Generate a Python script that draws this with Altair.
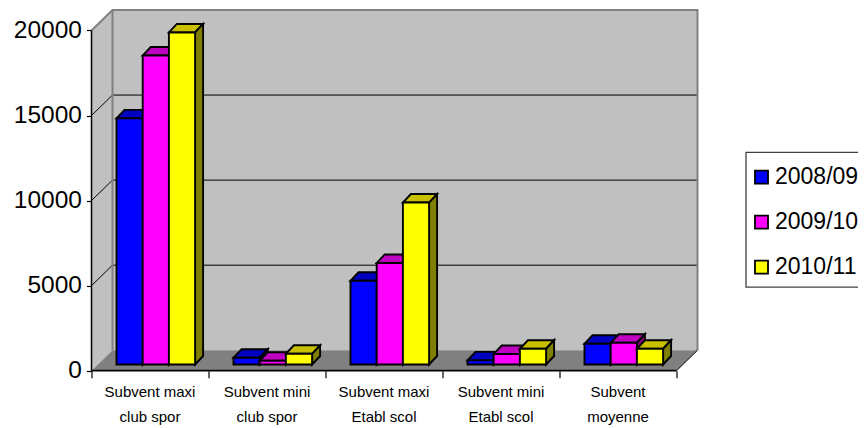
import altair as alt
import pandas as pd

categories = ["Subvent maxi\nclub spor", "Subvent mini\nclub spor", "Subvent maxi\nEtabl scol",
              "Subvent mini\nEtabl scol", "Subvent\nmoyenne"]
series_names = ["2008/09", "2009/10", "2010/11"]
values_0809 = [14470, 400, 4920, 245, 1220]
values_0910 = [18160, 220, 5970, 616, 1280]
values_1011 = [19520, 630, 9520, 927, 927]
y_ticks = [0, 5000, 10000, 15000, 20000]
front_colors = ["#0000ff", "#ff00ff", "#ffff00"]
top_colors = ["#0000c0", "#c000c0", "#c8c000"]
side_colors = ["#000080", "#800080", "#808000"]

# projection of the oblique 3-D box, in category units / value units
N = len(categories)
WALL_DX = 21 / 117
WALL_DY = 1203
XMAX = 606.5 / 117
YMAX = 21203
BAR_X0 = 25 / 117
BAR_W = 26.2 / 117
BAR_BASE = 364
DEPTH_DX = 8 / 117
DEPTH_DY = 500

FONT = "Liberation Sans"

xs = alt.Scale(domain=[0, XMAX], nice=False, zero=False)
ys = alt.Scale(domain=[0, YMAX], nice=False, zero=False)
x_axis = alt.Axis(values=list(range(N + 1)), labels=False, domain=False, grid=False,
                  title=None, tickSize=7, tickColor="black", tickWidth=1.2)
y_axis = alt.Axis(values=y_ticks, domain=False, grid=False, title=None, tickSize=5,
                  tickColor="black", tickWidth=1.2, labelFont=FONT, labelFontSize=24.5,
                  labelColor="black", labelPadding=5, format="d")
X = alt.X("x:Q", scale=xs, axis=x_axis)
Y = alt.Y("y:Q", scale=ys, axis=y_axis)

all_values = [values_0809, values_0910, values_1011]
faces = []
fid = 0
for c in range(N):
    for s, vals in enumerate(all_values):
        x0 = c + BAR_X0 + s * BAR_W
        x1 = x0 + BAR_W
        top = BAR_BASE + vals[c]
        dx, dy = DEPTH_DX, DEPTH_DY
        name = series_names[s]
        # top face
        fid += 1
        for px, lo, hi in [(x0, top, top), (x0 + dx, top, top + dy), (x1, top, top + dy), (x1 + dx, top + dy, top + dy)]:
            faces.append(dict(f=fid, key="t" + name, x=px, y=lo, y2=hi))
        # side face
        fid += 1
        for px, lo, hi in [(x1, BAR_BASE, top), (x1 + dx, BAR_BASE + dy, top + dy)]:
            faces.append(dict(f=fid, key="s" + name, x=px, y=lo, y2=hi))
        # front face
        fid += 1
        for px in (x0, x1):
            faces.append(dict(f=fid, key=name, x=px, y=BAR_BASE, y2=top))
faces = pd.DataFrame(faces)

left_wall = pd.DataFrame([dict(x=0, y=0, y2=20000), dict(x=WALL_DX, y=WALL_DY, y2=YMAX)])
back_wall = pd.DataFrame([dict(x=WALL_DX, y=WALL_DY, y2=YMAX), dict(x=N + WALL_DX, y=WALL_DY, y2=YMAX)])
floor = pd.DataFrame([dict(x=0, y=0, y2=0), dict(x=WALL_DX, y=0, y2=WALL_DY),
                      dict(x=N, y=0, y2=WALL_DY), dict(x=N + WALL_DX, y=WALL_DY, y2=WALL_DY)])
# legend frame: left/top/bottom edges; right edge runs past the picture as in the reference
legend_frame = pd.DataFrame([dict(x=654.5 / 117, y=4912, y2=12834), dict(x=7.0, y=4912, y2=12834)])

grid = pd.DataFrame([dict(g=v, o=i, x=px, y=v + dyy) for v in y_ticks[1:-1]
                     for i, (px, dyy) in enumerate([(0, 0), (WALL_DX, WALL_DY), (N + WALL_DX, WALL_DY)])])
edges = pd.DataFrame([dict(g=a, o=i, x=px, y=py) for a, i, px, py in [
    (0, 0, 0, 20000), (0, 1, WALL_DX, YMAX), (0, 2, N + WALL_DX, YMAX), (0, 3, N + WALL_DX, WALL_DY),
    (1, 0, WALL_DX, YMAX), (1, 1, WALL_DX, WALL_DY)]])
floor_edge = pd.DataFrame([dict(x=N, y=0), dict(x=N + WALL_DX, y=WALL_DY)])
y_line = pd.DataFrame([dict(x=0, y=0), dict(x=0, y=20000)])
x_line = pd.DataFrame([dict(x=0, y=0), dict(x=N, y=0)])
labels = pd.DataFrame([dict(x=i + 0.5, y=0, t=t) for i, t in enumerate(categories)])

lw = alt.Chart(left_wall).mark_area(color="#c0c0c0").encode(x=X, y=Y, y2="y2:Q")
back = alt.Chart(back_wall).mark_area(color="#c0c0c0").encode(x=X, y=Y, y2="y2:Q")
flr = alt.Chart(floor).mark_area(color="#808080").encode(x=X, y=Y, y2="y2:Q")
frame = alt.Chart(legend_frame).mark_area(color="white", stroke="#404040", strokeWidth=1.3).encode(x=X, y=Y, y2="y2:Q")
grid_l = alt.Chart(grid).mark_line(color="#000000", strokeWidth=1).encode(x=X, y=Y, detail="g:N", order="o:Q")
edge_l = alt.Chart(edges).mark_line(color="#808080", strokeWidth=2).encode(x=X, y=Y, detail="g:N", order="o:Q")
fedge_l = alt.Chart(floor_edge).mark_line(color="#000000", strokeWidth=1).encode(x=X, y=Y)

fill_domain = series_names + ["t" + n for n in series_names] + ["s" + n for n in series_names]
fill_range = front_colors + top_colors + side_colors
bars = alt.Chart(faces).mark_area(stroke="black", strokeWidth=1.9, strokeJoin="miter", opacity=1).encode(
    x=X, y=Y, y2="y2:Q",
    detail="f:N",
    fill=alt.Fill("key:N", scale=alt.Scale(domain=fill_domain, range=fill_range),
                  legend=alt.Legend(values=series_names, title=None, orient="none",
                                    legendX=658.5, legendY=155.7, padding=0, symbolType="square", symbolSize=170,
                                    symbolStrokeColor="black", symbolStrokeWidth=1.8,
                                    labelFont=FONT, labelFontSize=23, labelColor="black",
                                    labelOffset=2, rowPadding=21, labelLimit=200)),
    order=alt.Order("f:Q"))
yl = alt.Chart(y_line).mark_line(color="black", strokeWidth=1.5).encode(x=X, y=Y)
xl = alt.Chart(x_line).mark_line(color="black", strokeWidth=1.8).encode(x=X, y=Y)
txt = alt.Chart(labels).mark_text(baseline="top", align="center", dy=14, lineBreak="\n", lineHeight=25,
                                  font=FONT, fontSize=15, color="black").encode(x=X, y=Y, text="t:N")

chart = alt.layer(frame, lw, back, flr, grid_l, edge_l, fedge_l, bars, yl, xl, txt).properties(
    width=606.5, height=360.7,
    padding={"left": 83.5, "top": 2, "right": 160, "bottom": 57.3},
    autosize=alt.AutoSizeParams(type="none"),
    background="white",
).configure_view(stroke=None)

chart.save("out.html", embed_options={"renderer": "svg", "actions": False})
